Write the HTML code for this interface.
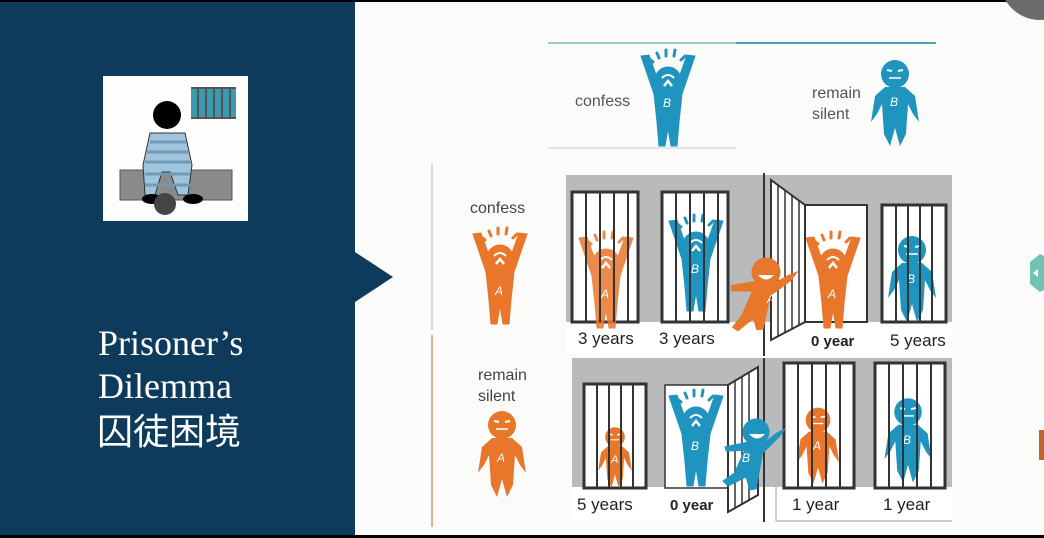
<!DOCTYPE html>
<html><head><meta charset="utf-8"><style>
html,body{margin:0;padding:0;width:1044px;height:538px;overflow:hidden;background:#fbfbfa}
svg{display:block}
</style></head><body>
<svg width="1044" height="538" viewBox="0 0 1044 538" xmlns="http://www.w3.org/2000/svg" font-family="Liberation Sans, sans-serif">
<defs>
<g id="up">
<circle cx="0" cy="0" r="13"/>
<polygon points="-27,-24 -19,-25 -8,6 8,6 19,-25 27,-24 14,14 11,42 9,66 3,66 0,48 -3,66 -9,66 -11,42 -14,14"/>
<g stroke-width="3" stroke-linecap="round">
<line x1="-9" y1="-22" x2="-11" y2="-27"/><line x1="-2" y1="-24" x2="-2" y2="-30"/><line x1="6" y1="-24" x2="7" y2="-30"/><line x1="13" y1="-20" x2="17" y2="-24"/><line x1="-15" y1="-18" x2="-19" y2="-21"/>
</g>
<path d="M-6,-2 Q0,-8 6,-2" fill="none" stroke="#fff" stroke-width="2"/>
<path d="M-4,6 L0,1 L4,6" fill="none" stroke="#fff" stroke-width="2.5"/>
</g>
<g id="down">
<circle cx="0" cy="0" r="14"/>
<polygon points="-10,13 -20,22 -24,48 -18,40 -13,30 -11,60 -5,72 0,54 5,72 11,60 13,30 18,40 24,48 20,22 10,13"/>
<line x1="-6" y1="4" x2="6" y2="4" stroke="#fff" stroke-width="1.5"/>
<line x1="-8" y1="-4" x2="-3" y2="-3" stroke="#fff" stroke-width="2"/>
<line x1="3" y1="-3" x2="8" y2="-4" stroke="#fff" stroke-width="2"/>
</g>
<g id="bars">
<rect x="0" y="0" width="66" height="130" fill="#fff" stroke="#333" stroke-width="3"/>
</g>
</defs>

<rect x="0" y="0" width="1044" height="2" fill="#000"/>
<rect x="0" y="535" width="1044" height="3" fill="#000"/>
<circle cx="1040" cy="-20" r="40" fill="#6b6b6b"/>
<polygon points="1030,262 1040,254 1044,256 1044,290 1040,292 1030,284" fill="#73c2b6"/>
<polygon points="1038,269 1033,273 1038,277" fill="#fff"/>
<rect x="1039" y="430" width="5" height="30" fill="#c0642a"/>

<rect x="0" y="2" width="355" height="533" fill="#0e3a5b"/>
<polygon points="355,252 393,277 355,302" fill="#0e3a5b"/>
<rect x="103" y="76" width="145" height="145" fill="#fdfdfd"/>
<rect x="191" y="87" width="45" height="32" fill="#3c9ab0"/>
<g stroke="#555" stroke-width="2"><line x1="191" y1="88" x2="236" y2="88"/><line x1="191" y1="118" x2="236" y2="118"/>
<line x1="198" y1="88" x2="198" y2="118"/><line x1="206" y1="88" x2="206" y2="118"/><line x1="214" y1="88" x2="214" y2="118"/><line x1="222" y1="88" x2="222" y2="118"/><line x1="230" y1="88" x2="230" y2="118"/></g>
<rect x="120" y="170" width="112" height="30" fill="#8a8a8a" stroke="#555"/>
<circle cx="167" cy="115" r="14" fill="#000"/>
<path d="M150,133 L185,133 L192,165 L188,195 L178,195 L170,172 L162,172 L155,195 L145,195 L143,165 Z" fill="#9fc4dc" stroke="#333"/>
<g stroke="#6e9bb8" stroke-width="3"><line x1="150" y1="142" x2="186" y2="142"/><line x1="147" y1="152" x2="188" y2="152"/><line x1="145" y1="162" x2="190" y2="162"/><line x1="145" y1="174" x2="190" y2="174"/><line x1="145" y1="185" x2="190" y2="185"/></g>
<ellipse cx="152" cy="199" rx="10" ry="5" fill="#000"/><ellipse cx="193" cy="199" rx="10" ry="5" fill="#000"/>
<circle cx="165" cy="204" r="11" fill="#444"/>
<text x="98" y="355" font-family="Liberation Serif, serif" font-size="36" fill="#fff">Prisoner’s</text>
<text x="98" y="398" font-family="Liberation Serif, serif" font-size="36" fill="#fff">Dilemma</text>
<text x="97" y="444" font-family="Liberation Sans, 'Noto Sans CJK TC', sans-serif" font-size="36" fill="#fff">囚徒困境</text>

<line x1="548" y1="43" x2="736" y2="43" stroke="#7ab8c6" stroke-width="1.5"/>
<line x1="736" y1="43" x2="936" y2="43" stroke="#4aa3b8" stroke-width="2"/>
<line x1="548" y1="148" x2="736" y2="148" stroke="#ccc" stroke-width="1"/>
<text x="575" y="106" font-size="16" fill="#555">confess</text>
<g fill="#1f94be" stroke="#1f94be" transform="translate(668,80)"><use href="#up"/></g>
<text x="663" y="107" font-size="12" font-style="italic" fill="#fff">B</text>
<text x="812" y="98" font-size="16" fill="#555">remain</text>
<text x="812" y="119" font-size="16" fill="#555">silent</text>
<g fill="#1f94be" stroke="none" transform="translate(895,74)"><use href="#down"/></g>
<text x="890" y="106" font-size="12" font-style="italic" fill="#fff">B</text>

<line x1="432" y1="163" x2="432" y2="330" stroke="#ccc" stroke-width="1.5"/>
<line x1="432" y1="335" x2="432" y2="527" stroke="#d9b29a" stroke-width="2"/>
<text x="470" y="213" font-size="16" fill="#444">confess</text>
<g fill="#e8762b" stroke="#e8762b" transform="translate(500,258)"><use href="#up"/></g>
<text x="495" y="295" font-size="12" font-style="italic" fill="#fff">A</text>
<text x="478" y="380" font-size="16" fill="#444">remain</text>
<text x="478" y="401" font-size="16" fill="#444">silent</text>
<g fill="#e8762b" transform="translate(502,425)"><use href="#down"/></g>
<text x="497" y="462" font-size="12" font-style="italic" fill="#fff">A</text>

<rect x="566" y="175" width="386" height="148" fill="#b9babc"/>
<rect x="566" y="322" width="386" height="33" fill="#fff"/>
<g transform="translate(572,192)"><use href="#bars"/></g>
<g transform="translate(662,192)"><use href="#bars"/></g>
<rect x="805" y="205" width="62" height="117" fill="#fff" stroke="#333" stroke-width="2"/>
<rect x="882" y="205" width="64" height="117" fill="#fff" stroke="#333" stroke-width="3"/>
<g fill="#e8762b" stroke="#e8762b" opacity="0.85" transform="translate(606,262)"><use href="#up"/></g>
<text x="601" y="298" font-size="12" font-style="italic" fill="#fff">A</text>
<g fill="#1f94be" stroke="#1f94be" transform="translate(696,245)"><use href="#up"/></g>
<text x="691" y="273" font-size="12" font-style="italic" fill="#fff">B</text>
<g fill="#e8762b" stroke="#e8762b" transform="translate(833,262)"><use href="#up"/></g>
<text x="828" y="298" font-size="12" font-style="italic" fill="#fff">A</text>
<g fill="#1f94be" transform="translate(912,250)"><use href="#down"/></g>
<text x="907" y="283" font-size="12" font-style="italic" fill="#fff">B</text>
<g stroke="#333" stroke-width="2">
<line x1="586" y1="192" x2="586" y2="322"/><line x1="600" y1="192" x2="600" y2="322"/><line x1="614" y1="192" x2="614" y2="322"/><line x1="628" y1="192" x2="628" y2="322"/>
<line x1="676" y1="192" x2="676" y2="322"/><line x1="690" y1="192" x2="690" y2="322"/><line x1="704" y1="192" x2="704" y2="322"/><line x1="718" y1="192" x2="718" y2="322"/>
<line x1="896" y1="205" x2="896" y2="322"/><line x1="908" y1="205" x2="908" y2="322"/><line x1="920" y1="205" x2="920" y2="322"/><line x1="932" y1="205" x2="932" y2="322"/>
</g>
<polygon points="771,180 805,205 805,322 771,340" fill="#fff" stroke="#333" stroke-width="2"/>
<g stroke="#333" stroke-width="1.5"><line x1="778" y1="185" x2="778" y2="337"/><line x1="785" y1="190" x2="785" y2="333"/><line x1="792" y1="195" x2="792" y2="330"/><line x1="799" y1="200" x2="799" y2="326"/></g>
<line x1="764" y1="173" x2="764" y2="356" stroke="#333" stroke-width="2"/>
<g fill="#e8762b" stroke="#e8762b" transform="translate(766,272) rotate(15)">
<circle cx="0" cy="0" r="14"/>
<polygon points="-8,12 -30,22 -28,27 -8,22 -12,48 -18,62 -12,64 0,48 6,58 12,56 10,22 26,2 30,-8 22,-2 8,12"/>
</g>
<path d="M758,275 Q766,284 774,275" fill="#fff"/>
<text x="767" y="303" font-size="12" font-style="italic" fill="#fff">A</text>
<text x="578" y="344" font-size="17" fill="#222">3 years</text>
<text x="659" y="344" font-size="17" fill="#222">3 years</text>
<text x="811" y="346" font-size="15" font-weight="bold" fill="#222">0 year</text>
<text x="890" y="346" font-size="17" fill="#222">5 years</text>

<rect x="572" y="358" width="380" height="130" fill="#b9babc"/>
<rect x="572" y="487" width="380" height="34" fill="#fff"/>
<line x1="776" y1="487" x2="776" y2="521" stroke="#999"/>
<line x1="776" y1="521" x2="952" y2="521" stroke="#999"/>
<rect x="584" y="384" width="62" height="104" fill="#fff" stroke="#333" stroke-width="3"/>
<rect x="665" y="385" width="63" height="103" fill="#fff" stroke="#333" stroke-width="1.5"/>
<rect x="784" y="363" width="70" height="125" fill="#fff" stroke="#333" stroke-width="3"/>
<rect x="875" y="363" width="70" height="125" fill="#fff" stroke="#333" stroke-width="3"/>
<g fill="#e8762b" transform="translate(615,437) scale(0.7)"><use href="#down"/></g>
<text x="611" y="463" font-size="11" font-style="italic" fill="#fff">A</text>
<g fill="#1f94be" stroke="#1f94be" transform="translate(696,420)"><use href="#up"/></g>
<text x="691" y="450" font-size="12" font-style="italic" fill="#fff">B</text>
<g fill="#e8762b" transform="translate(818,420) scale(0.88)"><use href="#down"/></g>
<text x="813" y="450" font-size="12" font-style="italic" fill="#fff">A</text>
<g fill="#1f94be" transform="translate(908,412) scale(0.98)"><use href="#down"/></g>
<text x="903" y="444" font-size="12" font-style="italic" fill="#fff">B</text>
<g stroke="#333" stroke-width="2">
<line x1="597" y1="384" x2="597" y2="488"/><line x1="609" y1="384" x2="609" y2="488"/><line x1="621" y1="384" x2="621" y2="488"/><line x1="633" y1="384" x2="633" y2="488"/>
<line x1="798" y1="363" x2="798" y2="488"/><line x1="812" y1="363" x2="812" y2="488"/><line x1="826" y1="363" x2="826" y2="488"/><line x1="840" y1="363" x2="840" y2="488"/>
<line x1="889" y1="363" x2="889" y2="488"/><line x1="903" y1="363" x2="903" y2="488"/><line x1="917" y1="363" x2="917" y2="488"/><line x1="931" y1="363" x2="931" y2="488"/>
</g>
<polygon points="728,385 758,367 758,495 728,512" fill="#fff" stroke="#333" stroke-width="2"/>
<g stroke="#333" stroke-width="1.5"><line x1="735" y1="381" x2="735" y2="508"/><line x1="742" y1="377" x2="742" y2="504"/><line x1="749" y1="372" x2="749" y2="500"/></g>
<line x1="764" y1="358" x2="764" y2="522" stroke="#333" stroke-width="2"/>
<g fill="#1f94be" stroke="#1f94be" transform="translate(756,432) rotate(10)">
<circle cx="0" cy="0" r="13"/>
<polygon points="-8,12 -28,20 -26,24 -8,20 -14,44 -24,54 -18,58 -2,46 4,58 10,56 10,20 24,0 28,-8 20,-2 8,12"/>
</g>
<path d="M749,434 Q757,443 765,434" fill="#fff"/>
<text x="742" y="462" font-size="12" font-style="italic" fill="#fff">B</text>
<text x="577" y="510" font-size="17" fill="#222">5 years</text>
<text x="670" y="510" font-size="15" font-weight="bold" fill="#222">0 year</text>
<text x="792" y="510" font-size="17" fill="#222">1 year</text>
<text x="883" y="510" font-size="17" fill="#222">1 year</text>
</svg>
</body></html>
